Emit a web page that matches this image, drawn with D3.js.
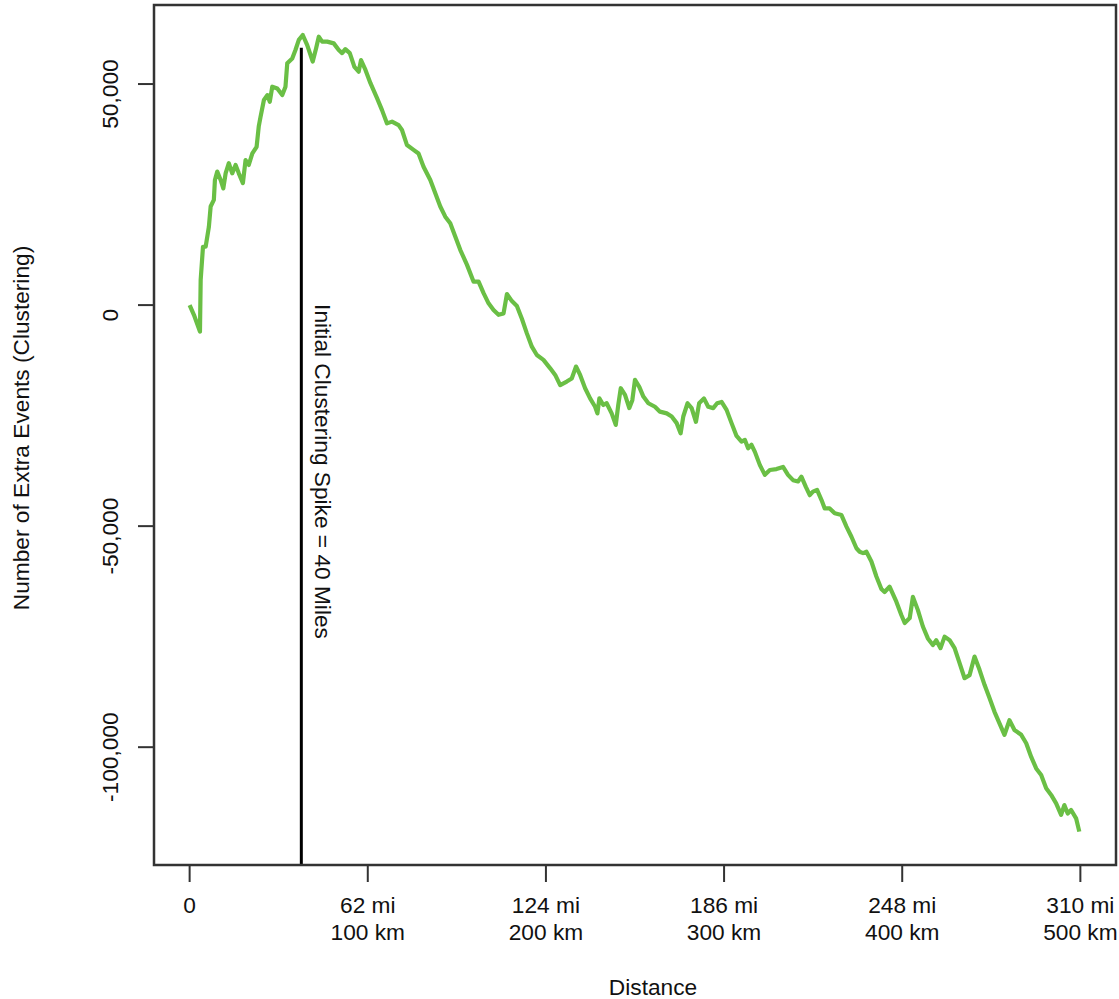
<!DOCTYPE html>
<html>
<head>
    <title>Extra Events by Distance</title>
    <script src="https://d3js.org/d3.v7.min.js"></script>
    <style>
        body {
            margin: 0;
            background: #fff;
            font-family: Arial, "Liberation Sans", sans-serif;
        }
        #chart text {
            fill: #111;
        }
    </style>
</head>
<body>
    <div id="chart"></div>

    <script>
        // distance in km, extra events (clustering)
        const distKm = [
            0, 2.4, 5.8, 6.2, 7.5, 9.0, 10.8, 11.8, 13.6, 14.2,
            15.5, 17.4, 18.9, 20.2, 22.0, 23.9, 25.8, 27.6, 29.9, 31.4,
            33.2, 35.2, 37.6, 38.8, 39.8, 41.7, 43.6, 45.0, 46.4, 49.2,
            52.0, 53.8, 54.8, 57.6, 59.4, 61.3, 63.5, 66.0, 69.1, 71.0,
            72.5, 74.4, 77.2, 80.9, 83.7, 85.6, 87.4, 89.9, 92.5, 94.9,
            96.2, 98.7, 101.5, 105.2, 108.0, 110.8, 113.6, 117.3, 119.2, 122.0,
            125.7, 128.5, 131.3, 135.1, 137.9, 140.7, 143.5, 146.3, 149.1, 151.9,
            155.7, 159.4, 162.2, 165.0, 167.8, 170.6, 173.4, 176.2, 178.1, 180.9,
            183.7, 186.5, 189.3, 192.1, 194.9, 198.6, 202.4, 205.2, 208.0, 211.7,
            214.5, 216.9, 219.2, 222.0, 224.8, 227.6, 228.9, 230.0, 232.2, 234.1,
            236.9, 239.2, 240.6, 242.0, 244.4, 246.8, 248.5, 250.0, 252.4, 254.7,
            257.5, 261.2, 264.0, 267.8, 270.6, 273.4, 275.6, 277.1, 279.5, 281.8,
            284.2, 286.0, 288.7, 291.1, 293.9, 296.1, 298.6, 301.4, 304.2, 307.0,
            309.8, 311.7, 313.5, 315.4, 317.3, 320.1, 322.9, 325.7, 329.4, 333.1,
            335.9, 338.7, 341.5, 343.4, 345.9, 348.1, 349.9, 352.2, 354.7, 356.5,
            359.3, 362.1, 365.9, 368.7, 371.5, 374.3, 376.1, 378.0, 379.9, 382.7,
            385.5, 388.3, 390.1, 392.9, 396.7, 399.5, 401.4, 404.2, 406.0, 408.8,
            411.6, 414.4, 417.2, 419.1, 421.5, 423.8, 426.6, 429.4, 432.2, 435.0,
            437.8, 440.6, 443.4, 446.2, 449.0, 451.8, 454.6, 457.4, 460.2, 463.0,
            466.8, 469.6, 472.4, 475.2, 478.0, 480.8, 483.6, 486.4, 489.2, 491.0,
            492.9, 494.8, 497.6, 499.4
        ];

        const extraEvents = [
            0, -2200, -6000, 5700, 13200, 13200, 17700, 22300, 23800, 28300,
            30200, 28300, 26400, 29800, 32100, 29800, 31700, 29800, 27600, 32800,
            31700, 34300, 35800, 40400, 42600, 46400, 47500, 46000, 49400, 49000,
            47500, 49400, 54700, 55800, 57700, 60000, 61100, 58800, 55100, 58100,
            60700, 59600, 59600, 59200, 57700, 57000, 57900, 57000, 53900, 52800,
            55400, 53200, 50200, 46800, 44100, 41100, 41500, 40700, 39600, 36200,
            35100, 34300, 31300, 28300, 25300, 22300, 20000, 18500, 15500, 12500,
            9100, 5300, 5300, 2700, 400, -1100, -2200, -1900, 2500, 900,
            -200, -3100, -6400, -9400, -11300, -12400, -14300, -15800, -18100, -17300,
            -16600, -13900, -15800, -18800, -21100, -23000, -24500, -21100, -22600, -22200,
            -24500, -27100, -22600, -18800, -20300, -23300, -21500, -16900, -18500, -20700,
            -22200, -23000, -24100, -24500, -25200, -26700, -29000, -25200, -22200, -23300,
            -26400, -22200, -21100, -23000, -23300, -22200, -21900, -23700, -26700, -29600,
            -30900, -30500, -32400, -31600, -33200, -36200, -38400, -37300, -37100, -36600,
            -38400, -39600, -39900, -38800, -41100, -43000, -42200, -41800, -44100, -46000,
            -46000, -47100, -47500, -50100, -52400, -55000, -55800, -56100, -55800, -58000,
            -61400, -64200, -64900, -63700, -67100, -70100, -71900, -70800, -66000, -69000,
            -72700, -75400, -76900, -75800, -77600, -75000, -75800, -77600, -81000, -84400,
            -83700, -79500, -82500, -85900, -88900, -92000, -94600, -97200, -93900, -96100,
            -97200, -99100, -102200, -104800, -106300, -109300, -110800, -112700, -115300, -113100,
            -115000, -114200, -116100, -119100
        ];

        const xTicksKm = [0, 100, 200, 300, 400, 500];
        const xTickMiles = ["0", "62 mi", "124 mi", "186 mi", "248 mi", "310 mi"];
        const xTickKmLabels = ["", "100 km", "200 km", "300 km", "400 km", "500 km"];
        const yTicks = [50000, 0, -50000, -100000];

        const spikeKm = 62.7;
        const spikeTop = 58200;
        const spikeLabel = "Initial Clustering Spike = 40 Miles";

        const width = 1119, height = 999;
        const box = { left: 154, right: 1116, top: 5, bottom: 865 };

        const svg = d3.select("#chart")
            .append("svg")
            .attr("width", width)
            .attr("height", height)
            .attr("font-family", "Arial, 'Liberation Sans', sans-serif")
            .attr("font-size", 22.7);

        const x = d3.scaleLinear()
            .domain([-20, 520])
            .range([box.left, box.right]);

        const y = d3.scaleLinear()
            .domain([-126650, 67880])
            .range([box.bottom, box.top]);

        const series = distKm.map((d, i) => ({ km: d, value: extraEvents[i] }));

        // the curve
        const line = d3.line()
            .x(d => x(d.km))
            .y(d => y(d.value));

        svg.append("path")
            .datum(series)
            .attr("fill", "none")
            .attr("stroke", "#6abf45")
            .attr("stroke-width", 4.2)
            .attr("stroke-linejoin", "round")
            .attr("d", line);

        // spike marker
        svg.append("line")
            .attr("x1", x(spikeKm))
            .attr("x2", x(spikeKm))
            .attr("y1", y(spikeTop))
            .attr("y2", box.bottom)
            .attr("stroke", "#000")
            .attr("stroke-width", 3);

        svg.append("text")
            .attr("transform", `translate(${x(spikeKm) + 14},${y(0) - 1}) rotate(90)`)
            .attr("text-anchor", "start")
            .text(spikeLabel);

        // frame
        svg.append("rect")
            .attr("x", box.left)
            .attr("y", box.top)
            .attr("width", box.right - box.left)
            .attr("height", box.bottom - box.top)
            .attr("fill", "none")
            .attr("stroke", "#333")
            .attr("stroke-width", 2.5);

        // x axis
        const xAxis = svg.append("g");
        xAxis.selectAll("line")
            .data(xTicksKm)
            .join("line")
            .attr("x1", d => x(d))
            .attr("x2", d => x(d))
            .attr("y1", box.bottom)
            .attr("y2", box.bottom + 17)
            .attr("stroke", "#333")
            .attr("stroke-width", 2);

        const xLabels = xAxis.selectAll("text")
            .data(xTicksKm)
            .join("text")
            .attr("text-anchor", "middle");
        xLabels.append("tspan")
            .attr("x", d => x(d))
            .attr("y", box.bottom + 48)
            .text((d, i) => xTickMiles[i]);
        xLabels.append("tspan")
            .attr("x", d => x(d))
            .attr("y", box.bottom + 75)
            .text((d, i) => xTickKmLabels[i]);

        svg.append("text")
            .attr("x", 653)
            .attr("y", 995)
            .attr("text-anchor", "middle")
            .text("Distance");

        // y axis
        const yAxis = svg.append("g");
        yAxis.selectAll("line")
            .data(yTicks)
            .join("line")
            .attr("x1", box.left - 16)
            .attr("x2", box.left)
            .attr("y1", d => y(d))
            .attr("y2", d => y(d))
            .attr("stroke", "#333")
            .attr("stroke-width", 2);

        // labels sit a little below their ticks in the original
        yAxis.selectAll("text")
            .data(yTicks)
            .join("text")
            .attr("transform", d => `translate(118,${y(d) + 10}) rotate(-90)`)
            .attr("text-anchor", "middle")
            .text(d => d3.format(",")(d).replace("−", "-"));

        svg.append("text")
            .attr("transform", "translate(29,428) rotate(-90)")
            .attr("text-anchor", "middle")
            .text("Number of Extra Events (Clustering)");
    </script>
</body>
</html>
